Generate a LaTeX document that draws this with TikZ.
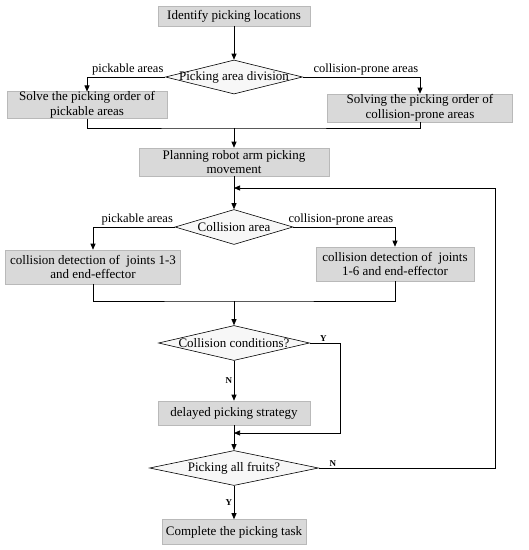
\documentclass[tikz,border=0pt]{standalone}
\usepackage{fontspec}
\setmainfont{Liberation Serif}
\usetikzlibrary{shapes.geometric,arrows.meta}

\tikzset{
	stepbox/.style={rectangle, fill=gray!30, draw=gray!55, line width=0.6pt, inner sep=0pt, align=center, font=\fontsize{13}{14.5}\selectfont},
	choice/.style={diamond, fill=gray!6, draw=black, line width=0.6pt, inner sep=0pt, font=\fontsize{13}{14.5}\selectfont},
	yn/.style={font=\fontsize{9}{10}\selectfont\bfseries, inner sep=1.5pt},
	branch/.style={font=\fontsize{12.5}{14}\selectfont, inner sep=1.5pt},
	flow/.style={-{Triangle[length=6pt,width=5pt]}, line width=0.7pt},
	wire/.style={line width=0.7pt}
}

\begin{document}
\begin{tikzpicture}[x=1pt, y=-1pt]
	\useasboundingbox (0,0) rectangle (529,550);

	% boxes
	\node[stepbox, minimum width=152pt, minimum height=20pt] (identify) at (234,16) {Identify picking locations};
	\node[stepbox, minimum width=160pt, minimum height=26pt] (orderA) at (87,105) {Solve the picking order of\\pickable areas};
	\node[stepbox, minimum width=185pt, minimum height=28pt] (orderB) at (420,108) {Solving the picking order of\\collision-prone areas};
	\node[stepbox, minimum width=190pt, minimum height=28pt] (plan) at (234,162) {Planning robot arm picking\\movement};
	\node[stepbox, minimum width=175pt, minimum height=34pt] (detA) at (93,267) {collision detection of ~joints 1-3\\and end-effector};
	\node[stepbox, minimum width=158pt, minimum height=34pt] (detB) at (395,264) {collision detection of ~joints\\1-6 and end-effector};
	\node[stepbox, minimum width=152pt, minimum height=24pt] (delay) at (234,413) {delayed picking strategy};
	\node[stepbox, minimum width=144pt, minimum height=25pt] (done) at (234,532) {Complete the picking task};

	% decisions
	\node[choice, minimum width=137pt, minimum height=34pt] (division) at (234,77) {\makebox[0pt]{Picking area division}};
	\node[choice, minimum width=118pt, minimum height=35pt] (area) at (234,227) {\makebox[0pt]{Collision area}};
	\node[choice, minimum width=151pt, minimum height=35pt] (cond) at (234,343) {\makebox[0pt]{Collision conditions?}};
	\node[choice, minimum width=169pt, minimum height=35pt] (allfruit) at (234,468) {\makebox[0pt]{Picking all fruits?}};

	\coordinate (joinA) at (234,128);
	\coordinate (back) at (234,188);
	\coordinate (joinB) at (234,301);
	\coordinate (merge) at (234,433);
	\coordinate (yturn) at (340,343);
	\coordinate (nturn) at (495,468);

	% connectors
	\draw[flow] (identify) -- (division);
	\draw[flow] (division.west) -| node[branch, pos=0, anchor=south east] {pickable areas} (orderA.north);
	\draw[flow] (division.east) -| node[branch, pos=0.5, anchor=south east] {collision-prone areas} (orderB.north);
	\draw[wire] (orderA.south) |- (joinA) -| (orderB.south);
	\draw[flow] (joinA) -- (plan.north);
	\draw[flow] (plan.south) -- (area.north);
	\draw[flow] (area.west) -| node[branch, pos=0, anchor=south east] {pickable areas} (detA.north);
	\draw[flow] (area.east) -| node[branch, pos=0.5, anchor=south east] {collision-prone areas} (detB.north);
	\draw[wire] (detA.south) |- (joinB) -| (detB.south);
	\draw[flow] (joinB) -- (cond.north);
	\draw[flow] (cond.south) -- node[yn, left] {N} (delay.north);
	\draw[flow] (cond.east) -- node[yn, pos=0.45, above] {Y} (yturn) |- (merge);
	\draw[flow] (delay.south) -- (allfruit.north);
	\draw[flow] (allfruit.south) -- node[yn, left] {Y} (done.north);
	\draw[flow] (allfruit.east) -- node[yn, pos=0.08, above] {N} (nturn) |- (back);
\end{tikzpicture}
\end{document}
